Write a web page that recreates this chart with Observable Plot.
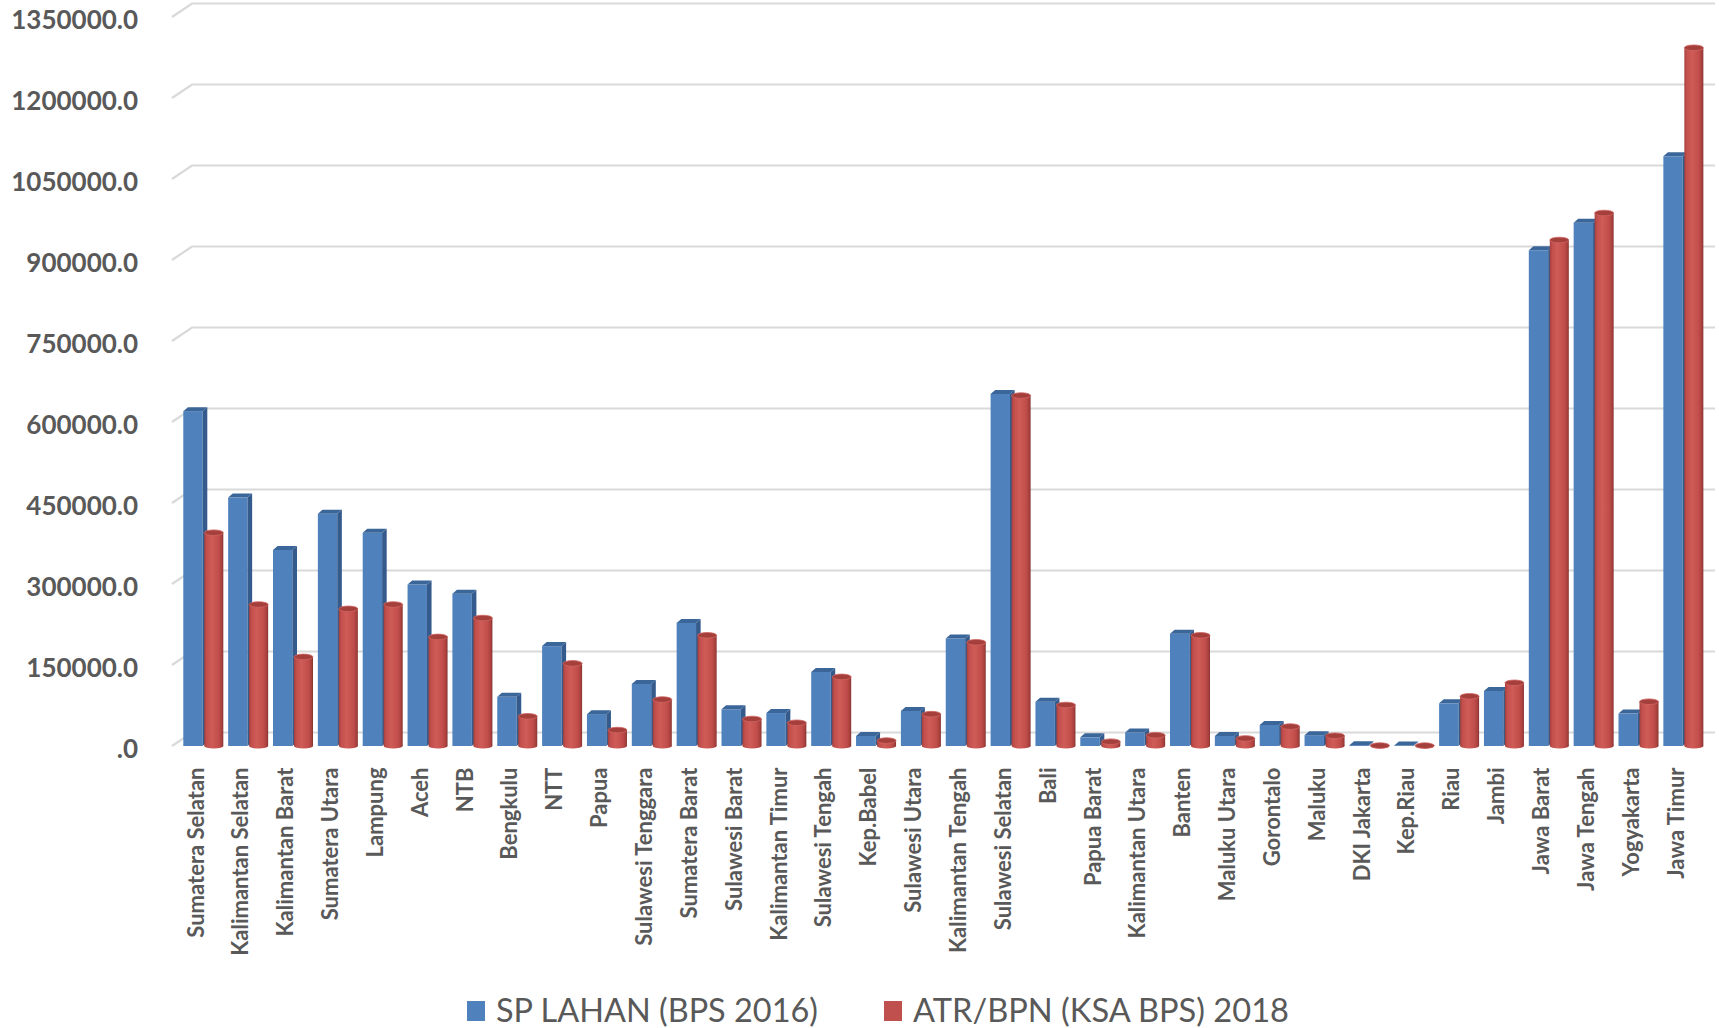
<!DOCTYPE html>
<html><head><meta charset="utf-8">
<script src="https://cdn.jsdelivr.net/npm/d3@7"></script>
<script src="https://cdn.jsdelivr.net/npm/@observablehq/plot@0.6"></script>
<style>
body{margin:0;background:#fff;width:1719px;height:1028px;overflow:hidden;font-family:Lato,sans-serif}
#chart svg{display:block}
#legend{height:43px}
#legend svg{display:block}
</style></head><body>
<div id="chart"></div>
<div id="legend"></div>
<script>
const regions = ["Sumatera Selatan","Kalimantan Selatan","Kalimantan Barat","Sumatera Utara","Lampung","Aceh","NTB","Bengkulu","NTT","Papua","Sulawesi Tenggara","Sumatera Barat","Sulawesi Barat","Kalimantan Timur","Sulawesi Tengah","Kep.Babel","Sulawesi Utara","Kalimantan Tengah","Sulawesi Selatan","Bali","Papua Barat","Kalimantan Utara","Banten","Maluku Utara","Gorontalo","Maluku","DKI Jakarta","Kep.Riau","Riau","Jambi","Jawa Barat","Jawa Tengah","Yogyakarta","Jawa Timur"];
const sp2016 = [620000,460000,363000,430000,395000,299000,282000,91000,185000,59000,115000,228000,68000,61000,137000,18500,65000,199000,652000,82000,16000,25000,208000,18500,39000,20000,1500,1000,79000,102000,918000,969000,60000,1092000];
const atr2018 = [395000,262000,165000,254000,262000,202000,237000,55000,153000,29500,86000,205000,50000,43000,128000,10000,59000,192000,649000,76000,8000,20000,205000,14000,36000,19000,800,700,92000,117000,937000,987000,82000,1293000];
const seriesNames = ["SP LAHAN (BPS 2016)","ATR/BPN (KSA BPS) 2018"];
const seriesColors = ["#4f81bd","#c0504d"];
const yTicks = [0,150000,300000,450000,600000,750000,900000,1050000,1200000,1350000];

const blue = regions.map((r,i)=>({region:r, value:sp2016[i]}));
const red = regions.map((r,i)=>({region:r, value:atr2018[i]}));

const BAND = 44.85;
const BL = 2.7, BW = 19.4, RL = 23.7, RW = 19;
const DX = 4.6, DY = -4;

function defsMark(){
  const svg = d3.create("svg:defs");
  const g = svg.append("linearGradient").attr("id","cyl").attr("x1","0").attr("x2","1").attr("y1","0").attr("y2","0");
  [["0%","#a23e3b"],["12%","#c24f4c"],["40%","#d05c58"],["75%","#c24e4b"],["92%","#a8403d"],["100%","#853230"]]
    .forEach(([o,c])=>g.append("stop").attr("offset",o).attr("stop-color",c));
  return svg.node();
}

function gridMark(index, scales, values, dim){
  const g = d3.create("svg:g").attr("fill","none").attr("stroke","#d9d9d9").attr("stroke-width",2.2);
  const y = scales.y;
  yTicks.forEach(t=>{
    const yf = y(t);
    g.append("path").attr("d",`M${dim.marginLeft-8.6},${yf}L${dim.marginLeft+11.4},${yf-13.5}L${dim.width-4},${yf-13.5}`);
  });
  return g.node();
}

function blueDepth(index, scales){
  const g = d3.create("svg:g");
  const x = scales.x, y = scales.y;
  blue.forEach(d=>{
    const x0 = x(d.region)+BL, x1 = x0+BW, yt = y(d.value), yb = y(0);
    g.append("path").attr("d",`M${x1},${yb}L${x1},${yt}L${x1+DX},${yt+DY}L${x1+DX},${yb+DY}Z`).attr("fill","#355b8c");
    g.append("path").attr("d",`M${x0},${yt}L${x0+DX},${yt+DY}L${x1+DX},${yt+DY}L${x1},${yt}Z`).attr("fill","#3b6699");
  });
  return g.node();
}

function redBottoms(index, scales){
  const g = d3.create("svg:g");
  const x = scales.x, y = scales.y;
  red.forEach(d=>{
    const cx = x(d.region)+RL+RW/2;
    g.append("ellipse").attr("cx",cx).attr("cy",y(0)).attr("rx",RW/2).attr("ry",2.6).attr("fill","url(#cyl)");
  });
  return g.node();
}

function redTops(index, scales){
  const g = d3.create("svg:g");
  const x = scales.x, y = scales.y;
  red.forEach(d=>{
    const cx = x(d.region)+RL+RW/2;
    g.append("ellipse").attr("cx",cx).attr("cy",y(d.value)).attr("rx",RW/2).attr("ry",2.8)
      .attr("fill","#a43f3c").attr("stroke","#cf6561").attr("stroke-width",0.8);
  });
  return g.node();
}

const chart = Plot.plot({
  width: 1719,
  height: 985,
  marginLeft: 180.6,
  marginRight: 13.5,
  marginTop: 17,
  marginBottom: 239,
  x: {domain: regions, padding: 0, round: false, axis: null},
  y: {domain: [0, 1350000], axis: null},
  marks: [
    defsMark,
    gridMark,
    Plot.barY(blue, {x: "region", y: "value", fill: seriesColors[0], insetLeft: BL, insetRight: BAND-BL-BW}),
    blueDepth,
    redBottoms,
    Plot.barY(red, {x: "region", y: "value", fill: "url(#cyl)", insetLeft: RL, insetRight: BAND-RL-RW}),
    redTops,
    Plot.text(yTicks, {y: d=>d, text: d=> d===0 ? ".0" : d.toFixed(1), frameAnchor: "left", textAnchor: "end", dx: -43, dy: 3,
      fontSize: 26, fontWeight: "bold", fontFamily: "Lato", fill: "#595959"}),
    Plot.text(regions, {x: d=>d, text: d=>d, frameAnchor: "bottom", rotate: -90, textAnchor: "end", dx: 0, dy: 21,
      fontSize: 22, fontWeight: "bold", fontFamily: "Lato", fill: "#595959"})
  ]
});
document.getElementById("chart").appendChild(chart);

// legend
const lg = d3.select("#legend").append("svg").attr("width",1719).attr("height",43);
const legendItems = [
  {name: seriesNames[0], color: seriesColors[0], sx: 467, tx: 496, tw: 322},
  {name: seriesNames[1], color: seriesColors[1], sx: 884, tx: 913, tw: 376}
];
legendItems.forEach(it=>{
  lg.append("rect").attr("x",it.sx).attr("y",16).attr("width",18).attr("height",20).attr("fill",it.color);
  lg.append("text").attr("x",it.tx).attr("y",37).attr("font-family","Lato").attr("font-size",33)
    .attr("fill","#595959").attr("textLength",it.tw).attr("lengthAdjust","spacingAndGlyphs").text(it.name);
});
</script>
</body></html>
